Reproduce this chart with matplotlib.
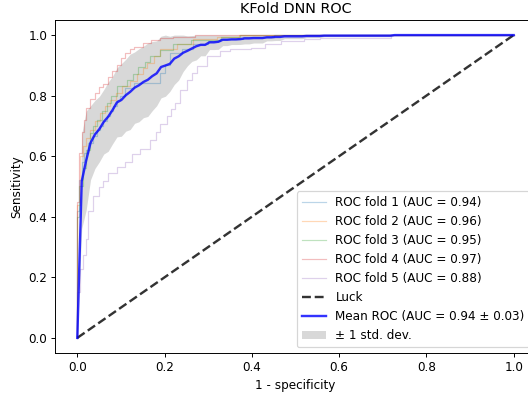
import numpy as np
import matplotlib
matplotlib.use("Agg")
import matplotlib.pyplot as plt

# Upper-left corners of each fold's staircase ROC curve (fpr, tpr)
fpr1 = [0, 0.005, 0.01, 0.015, 0.025, 0.036, 0.045, 0.052, 0.06, 0.067, 0.075, 0.082, 0.09, 0.098, 0.11, 0.13, 0.19, 0.2, 0.213, 0.24, 0.266, 0.3, 0.328, 0.38, 0.45, 1.0]
tpr1 = [0.42, 0.52, 0.58, 0.61, 0.645, 0.666, 0.685, 0.70, 0.715, 0.732, 0.75, 0.765, 0.785, 0.80, 0.825, 0.843, 0.875, 0.90, 0.94, 0.955, 0.97, 0.98, 0.986, 0.993, 1.0, 1.0]

fpr2 = [0, 0.006, 0.012, 0.02, 0.029, 0.04, 0.052, 0.063, 0.075, 0.088, 0.102, 0.12, 0.136, 0.15, 0.16, 0.175, 0.19, 0.229, 0.266, 0.32, 0.37, 1.0]
tpr2 = [0.44, 0.6, 0.633, 0.66, 0.688, 0.715, 0.744, 0.765, 0.787, 0.81, 0.831, 0.85, 0.87, 0.89, 0.909, 0.93, 0.953, 0.969, 0.986, 0.995, 1.0, 1.0]

fpr3 = [0, 0.005, 0.012, 0.02, 0.029, 0.037, 0.045, 0.056, 0.067, 0.078, 0.09, 0.113, 0.128, 0.14, 0.155, 0.167, 0.19, 0.22, 0.26, 0.33, 0.374, 1.0]
tpr3 = [0.40, 0.5, 0.56, 0.62, 0.678, 0.70, 0.72, 0.75, 0.777, 0.80, 0.831, 0.853, 0.873, 0.893, 0.91, 0.93, 0.95, 0.969, 0.985, 0.995, 1.0, 1.0]

fpr4 = [0, 0.005, 0.01, 0.015, 0.02, 0.03, 0.04, 0.05, 0.06, 0.07, 0.08, 0.09, 0.1, 0.11, 0.12, 0.13, 0.15, 0.17, 0.19, 0.22, 0.27, 1.0]
tpr4 = [0.45, 0.61, 0.68, 0.72, 0.76, 0.79, 0.81, 0.83, 0.84, 0.86, 0.88, 0.90, 0.925, 0.94, 0.955, 0.96, 0.975, 0.985, 0.99, 0.995, 1.0, 1.0]

fpr5 = [0, 0.006, 0.012, 0.021, 0.025, 0.036, 0.05, 0.059, 0.071, 0.09, 0.11, 0.125, 0.144, 0.167, 0.18, 0.19, 0.205, 0.215, 0.225, 0.236, 0.251, 0.262, 0.274, 0.297, 0.328, 0.351, 0.397, 0.43, 0.466, 0.52, 0.557, 0.718, 1.0]
tpr5 = [0.15, 0.226, 0.275, 0.325, 0.42, 0.468, 0.497, 0.518, 0.546, 0.563, 0.58, 0.606, 0.625, 0.655, 0.68, 0.705, 0.732, 0.755, 0.777, 0.82, 0.853, 0.875, 0.898, 0.93, 0.947, 0.953, 0.958, 0.97, 0.98, 0.986, 0.991, 1.0, 1.0]

fold_fprs = [fpr1, fpr2, fpr3, fpr4, fpr5]
fold_tprs = [tpr1, tpr2, tpr3, tpr4, tpr5]
fold_aucs = ["0.94", "0.96", "0.95", "0.97", "0.88"]
mean_auc_label = "0.94 \u00b1 0.03"


def staircase(f, t):
    xs, ys = [0.0], [0.0]
    prev = 0.0
    for i in range(len(f)):
        xs.append(f[i]); ys.append(prev)
        xs.append(f[i]); ys.append(t[i])
        prev = t[i]
    return np.array(xs), np.array(ys)


DPI = 86.4
fig = plt.figure(figsize=(528 / DPI, 396 / DPI), dpi=DPI)
ax = fig.add_axes([0.1051, 0.1086, 0.909, 0.841])

mean_fpr = np.linspace(0, 1, 100)
interp = []
for i, (f, t) in enumerate(zip(fold_fprs, fold_tprs)):
    xs, ys = staircase(f, t)
    ax.plot(xs, ys, lw=1, alpha=0.3, label=f"ROC fold {i + 1} (AUC = {fold_aucs[i]})")
    it = np.interp(mean_fpr, xs, ys)
    it[0] = 0.0
    interp.append(it)

ax.plot([0, 1], [0, 1], linestyle="--", lw=2, color="k", alpha=0.8, label="Luck")

interp = np.array(interp)
mean_tpr = interp.mean(axis=0)
mean_tpr[-1] = 1.0
std_tpr = interp.std(axis=0)
ax.plot(mean_fpr, mean_tpr, color="b", lw=2, alpha=0.8,
        label=f"Mean ROC (AUC = {mean_auc_label})")
upper = np.minimum(mean_tpr + std_tpr, 1)
lower = np.maximum(mean_tpr - std_tpr, 0)
ax.fill_between(mean_fpr, lower, upper, color="grey", alpha=0.3, lw=0,
                label="\u00b1 1 std. dev.")

ax.set_xlim(-0.05, 1.05)
ax.set_ylim(-0.05, 1.05)
ax.set_xlabel("1 - specificity")
ax.set_ylabel("Sensitivity")
ax.set_title("KFold DNN ROC")
ax.legend(loc="lower right")

fig.savefig("out.png", dpi=DPI)
